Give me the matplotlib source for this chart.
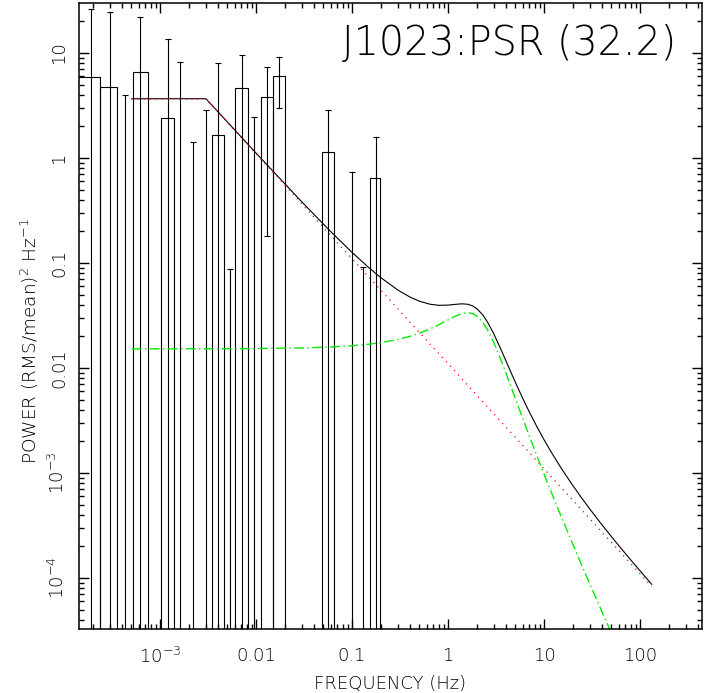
import numpy as np
import matplotlib
matplotlib.use("Agg")
import matplotlib.pyplot as plt
from matplotlib.ticker import FixedLocator, FixedFormatter, LogLocator, NullFormatter

plt.rcParams['font.family'] = ['DejaVu Sans']
plt.rcParams['font.weight'] = 'light'
plt.rcParams['axes.labelweight'] = 'light'
plt.rcParams['mathtext.fontset'] = 'custom'
plt.rcParams['mathtext.rm'] = 'DejaVu Sans:light'
plt.rcParams['mathtext.it'] = 'DejaVu Sans:light'
plt.rcParams['mathtext.bf'] = 'DejaVu Sans:bold'

# ---- data ----
bin_edges = [1.40e-4, 2.371e-4, 3.591e-4, 5.195e-4, 7.444e-4, 1.024e-3, 1.409e-3,
             1.888e-3, 2.548e-3, 3.455e-3, 4.675e-3, 6.087e-3, 8.254e-3, 0.01119,
             0.01515, 0.02005, 0.02674, 0.03591, 0.04835, 0.06449, 0.08599,
             0.1147, 0.1529, 0.1957]
bin_centers = [1.911e-4, 3.013e-4, 4.350e-4, 6.234e-4, 8.73e-4, 1.203e-3, 1.616e-3,
               2.191e-3, 2.992e-3, 3.990e-3, 5.358e-3, 7.20e-3, 9.42e-3, 0.01302,
               0.01736, 0.0232, 0.0310, 0.0417, 0.05582, 0.0745, 0.09929,
               0.1311, 0.1765]
power = [5.95, 4.71, -2.0, 6.55, np.nan, 2.39, -1.5, -2.0, -1.0, 1.67, -1.5,
         4.68, -0.5, 3.79, 6.08, np.nan, np.nan, np.nan, 1.15, np.nan, -0.3,
         -0.6, 0.64]
power_err = [20.05, 19.7, 5.96, 15.35, np.nan, 11.3, 9.76, 3.41, 3.85, 6.36,
             1.5877, 4.82, 2.94, 3.61, 3.12, np.nan, np.nan, np.nan, 1.70,
             np.nan, 1.035, 0.692, 0.96]

# model curves, sampled at these frequencies
model_freq = [5.07e-4, 1e-3, 3.01e-3, 0.01, 0.03, 0.06, 0.1, 0.15, 0.2, 0.3, 0.4,
              0.5, 0.65, 0.8, 1.0, 1.2, 1.4, 1.6, 1.8, 2.0, 2.3, 2.6, 3.0, 3.5,
              4.0, 4.6, 5.3, 6.2, 7.2, 8.5, 10, 12, 15, 19, 24, 30, 38, 48, 60,
              80, 100, 132.4]
# total model (black)
model_power = [3.665, 3.665, 3.665, 1.114, 0.3817, 0.1990, 0.1262, 0.09010,
               0.07238, 0.05530, 0.04746, 0.04335, 0.04046, 0.03953, 0.03970,
               0.04039, 0.04083, 0.04047, 0.03908, 0.03673, 0.03206, 0.02704,
               0.02111, 0.01556, 0.01177, 8.785e-3, 6.571e-3, 4.827e-3,
               3.650e-3, 2.722e-3, 2.077e-3, 1.560e-3, 1.124e-3, 8.115e-4,
               5.989e-4, 4.541e-4, 3.427e-4, 2.619e-4, 2.039e-4, 1.489e-4,
               1.172e-4, 8.71e-5]
# Lorentzian component (green dash-dot)
lor_power = [0.01521, 0.01522, 0.01524, 0.01531, 0.01552, 0.01584, 0.01629,
             0.01685, 0.01744, 0.01868, 0.01999, 0.02138, 0.02356, 0.02580,
             0.02872, 0.03124, 0.03298, 0.03360, 0.03298, 0.03124, 0.02728,
             0.02282, 0.01744, 0.01242, 9.027e-3, 6.396e-3, 4.498e-3, 3.055e-3,
             2.124e-3, 1.430e-3, 9.783e-4, 6.448e-4, 3.914e-4, 2.332e-4,
             1.411e-4, 8.79e-5, 5.358e-5, 3.299e-5, 2.083e-5, 1.156e-5,
             7.34e-6, 4.12e-6]
# broken power-law component (red dotted)
bpl_freq = [5.07e-4, 3.01e-3, 132.4]
bpl_power = [3.65, 3.65, 8.30e-5]

xtick_vals = [1e-3, 0.01, 0.1, 1, 10, 100]
xtick_labels = ['$10^{-3}$', '0.01', '0.1', '1', '10', '100']
ytick_vals = [1e-4, 1e-3, 0.01, 0.1, 1, 10]
ytick_labels = ['$10^{-4}$', '$10^{-3}$', '0.01', '0.1', '1', '10']

title = 'J1023:PSR (32.2)'
xlabel = 'FREQUENCY (Hz)'
ylabel = 'POWER (RMS/mean)$^2$ Hz$^{-1}$'

# ---- figure ----
fig = plt.figure(figsize=(7.06, 6.93), dpi=100)
ax = fig.add_axes([79/706, 64/693, 623/706, 626/693])
ax.set_xscale('log')
ax.set_yscale('log')
ax.set_xlim(1.432e-4, 442.4)
ax.set_ylim(3.27e-5, 29.9)

lw = 0.8
floor = 1e-9
edges = np.array(bin_edges)
P = np.array(power, dtype=float)
E = np.array(power_err, dtype=float)
C = np.array(bin_centers)

# bars (outline rectangles from the bottom)
for i in range(len(P)):
    if np.isfinite(P[i]) and P[i] > 0:
        l, r = edges[i], edges[i + 1]
        ax.plot([l, l, r, r], [floor, P[i], P[i], floor], color='black', lw=lw,
                solid_joinstyle='miter')

# error bars
for i in range(len(P)):
    if not np.isfinite(P[i]):
        continue
    hi = P[i] + E[i]
    lo = P[i] - E[i]
    lo_c = lo if lo > 0 else floor
    ax.plot([C[i], C[i]], [lo_c, hi], color='black', lw=lw)
    ax.plot([C[i]], [hi], marker='_', ms=4.5, mew=lw, color='black')
    if lo > 0:
        ax.plot([C[i]], [lo], marker='_', ms=4.5, mew=lw, color='black')

mf = np.array(model_freq)
ax.plot(mf, model_power, color='black', lw=lw)
ax.plot(bpl_freq, bpl_power, color='#ff0000', lw=1.0, linestyle=(0, (0.8, 3.5)))
ax.plot(mf, lor_power, color='#00ee00', lw=1.0,
        linestyle=(0, (7, 2.5, 1, 2.5)))

# axes style
for s in ax.spines.values():
    s.set_linewidth(1.1)
ax.xaxis.set_major_locator(FixedLocator(xtick_vals))
ax.xaxis.set_major_formatter(FixedFormatter(xtick_labels))
ax.yaxis.set_major_locator(FixedLocator(ytick_vals))
ax.yaxis.set_major_formatter(FixedFormatter(ytick_labels))
ax.xaxis.set_minor_locator(LogLocator(base=10, subs=np.arange(2, 10), numticks=30))
ax.yaxis.set_minor_locator(LogLocator(base=10, subs=np.arange(2, 10), numticks=30))
ax.xaxis.set_minor_formatter(NullFormatter())
ax.yaxis.set_minor_formatter(NullFormatter())
ax.tick_params(which='both', direction='in', top=True, right=True, width=1.0)
ax.tick_params(which='major', length=7)
ax.tick_params(which='minor', length=3.6)
ax.tick_params(axis='x', which='major', labelsize=13, pad=13)
ax.tick_params(axis='y', which='major', labelsize=13, pad=8)
for t in ax.get_yticklabels():
    t.set_rotation(90)
    t.set_va('center')

ax.set_xlabel(xlabel, fontsize=13, labelpad=6)
ax.set_ylabel(ylabel, fontsize=13.3)
ax.yaxis.set_label_coords(-0.061, 0.46)
ax.text(0.958, 0.935, title, transform=ax.transAxes, ha='right', va='center',
        fontsize=28.5)

fig.savefig('out.png', dpi=100)
